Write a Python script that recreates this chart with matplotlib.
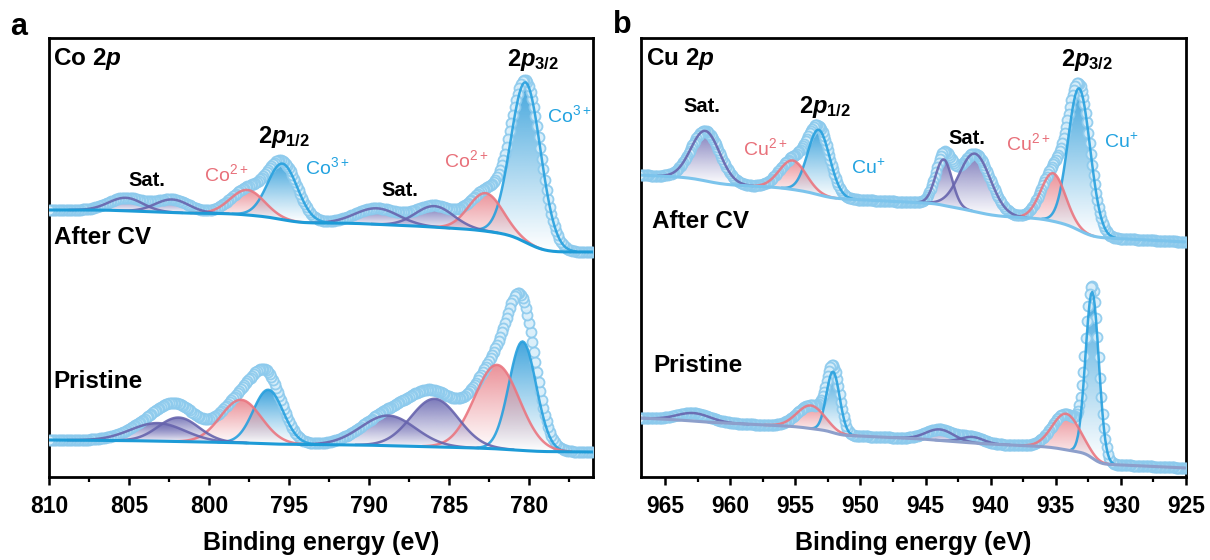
import numpy as np
import matplotlib
matplotlib.use("Agg")
import matplotlib.pyplot as plt
from matplotlib.colors import to_rgb
from matplotlib.ticker import MultipleLocator

plt.rcParams.update({
    "font.family": "Liberation Sans", "font.weight": "bold",
    "axes.labelweight": "bold",
    "mathtext.fontset": "custom",
    "mathtext.it": "Liberation Sans:italic:bold",
    "mathtext.rm": "Liberation Sans:bold",
    "mathtext.bf": "Liberation Sans:bold",
})

# ---- Co 2p fit components (center eV, height a.u., FWHM eV) ----
co_be = np.arange(776.0, 810.01, 0.1)
co_ticks = [810, 805, 800, 795, 790, 785, 780]
co_kind = ["M3", "M2", "sat", "sat", "M3", "M2", "sat", "sat"]
co_cv_center = [780.2, 782.7, 785.9, 789.5, 795.4, 797.6, 802.3, 805.2]
co_cv_height = [160, 38, 21, 16, 56, 25, 13, 13]
co_cv_fwhm = [2.2, 2.5, 2.8, 3.2, 2.2, 2.5, 2.5, 2.5]
co_cv_bg = [225, 42, 0]          # level at low BE, Shirley step, linear rise
co_pr_center = [780.4, 782.0, 785.9, 788.8, 796.3, 798.0, 801.9, 803.2]
co_pr_height = [109, 84, 48, 30, 54, 43, 24, 18]
co_pr_fwhm = [2.0, 3.3, 3.5, 4.0, 2.2, 3.0, 3.0, 4.0]
co_pr_bg = [25, 8, 4]

# ---- Cu 2p fit components ----
cu_be = np.arange(925.0, 967.01, 0.1)
cu_ticks = [965, 960, 955, 950, 945, 940, 935, 930, 925]
cu_kind = ["M3", "M2", "sat", "sat", "M3", "M2", "sat"]
cu_cv_center = [933.2, 935.2, 941.2, 943.6, 953.2, 955.2, 961.9]
cu_cv_height = [142, 48, 58, 46, 65, 29, 50]
cu_cv_fwhm = [2.0, 2.2, 2.8, 1.5, 2.0, 2.4, 2.6]
cu_cv_bg = [235, 40, 27]
cu_pr_center = [932.2, 934.2, 941.4, 943.9, 952.1, 953.8, 962.8]
cu_pr_height = [166, 36, 6, 11, 61, 23, 8]
cu_pr_fwhm = [1.2, 2.5, 2.0, 2.5, 1.2, 2.5, 3.0]
cu_pr_bg = [9, 25, 25]

LINE = {"M3": "#27a0de", "M2": "#ea7680", "sat": "#6764ad"}
FILL = {"M3": "#2c9bd9", "M2": "#e9868e", "sat": "#6e6cb3"}


def spectrum(be, center, height, fwhm, bg):
    comps = [h * np.exp(-4 * np.log(2) * ((be - c) / w) ** 2) for c, h, w in zip(center, height, fwhm)]
    total = np.sum(comps, axis=0)
    cum = np.cumsum(total) / total.sum()
    base = bg[0] + bg[1] * cum + bg[2] * (be - be[0]) / (be[-1] - be[0])
    return comps, base, base + total


def draw(ax, be, kinds, center, height, fwhm, bg, bg_color):
    comps, base, env = spectrum(be, center, height, fwhm, bg)
    ax.plot(be, env, "o", ms=7.2, mfc="#d8eefa", mec="#8ccaed", mew=1.3, alpha=0.9, zorder=3)
    for comp, kind in zip(comps, kinds):
        m = comp > 0.004 * comp.max()
        x, lo, hi = be[m], base[m], base[m] + comp[m]
        poly = ax.fill_between(x, lo, hi, facecolor="none", edgecolor="none")
        grad = np.zeros((256, 1, 4))
        grad[:, 0, :3] = to_rgb(FILL[kind])
        grad[:, 0, 3] = 0.9 * np.linspace(0.0, 1.0, 256) ** 1.1
        im = ax.imshow(grad, extent=(x[0], x[-1], lo.min(), hi.max()), origin="lower",
                       aspect="auto", interpolation="bilinear", zorder=2)
        im.set_clip_path(poly.get_paths()[0], transform=ax.transData)
        ax.plot(x, hi, color=LINE[kind], lw=1.8, alpha=0.9, zorder=4)
    ax.plot(be, base, color=bg_color, lw=2.2, zorder=4)


fig = plt.figure(figsize=(12.1, 5.6), dpi=100)
ax1 = fig.add_axes([49 / 1210, 83 / 560, 544 / 1210, 439 / 560])
ax2 = fig.add_axes([641 / 1210, 83 / 560, 545 / 1210, 439 / 560])

draw(ax1, co_be, co_kind, co_cv_center, co_cv_height, co_cv_fwhm, co_cv_bg, "#1d9bd7")
draw(ax1, co_be, co_kind, co_pr_center, co_pr_height, co_pr_fwhm, co_pr_bg, "#1d9bd7")
draw(ax2, cu_be, cu_kind, cu_cv_center, cu_cv_height, cu_cv_fwhm, cu_cv_bg, "#7cc4ec")
draw(ax2, cu_be, cu_kind, cu_pr_center, cu_pr_height, cu_pr_fwhm, cu_pr_bg, "#8d9fcb")

for ax, lim, ticks in [(ax1, (810, 776), co_ticks), (ax2, (966.85, 925), cu_ticks)]:
    ax.set_xlim(*lim)
    ax.set_ylim(0, 439)
    ax.set_yticks([])
    ax.set_xticks(ticks)
    ax.set_xticklabels([str(t) for t in ticks], fontsize=16.5, fontweight="bold")
    ax.xaxis.set_minor_locator(MultipleLocator(2.5))
    ax.tick_params(axis="x", which="major", direction="out", length=6, width=1.8, pad=7)
    ax.tick_params(axis="x", which="minor", direction="out", length=3.5, width=1.6)
    for s in ax.spines.values():
        s.set_linewidth(2)
    ax.set_xlabel("Binding energy (eV)", fontsize=18, fontweight="bold")
    ax.xaxis.set_label_coords(0.5, -0.122)

blue, red = "#23a3e0", "#e8707a"
ion = dict(fontsize=14, fontweight="normal", ha="center", va="center", zorder=6)
big = dict(fontsize=17, ha="center", va="center", zorder=6)
sat = dict(fontsize=14.5, ha="center", va="center", zorder=6)
side = dict(fontsize=17.5, ha="left", va="center", zorder=6)

# Co 2p annotations
ax1.text(809.75, 418, "Co 2$p$", **side)
ax1.text(809.7, 239, "After CV", **side)
ax1.text(809.7, 95, "Pristine", **side)
ax1.text(803.9, 296, "Sat.", **sat)
ax1.text(788.1, 286, "Sat.", **sat)
ax1.text(798.9, 303, r"Co$^{\mathregular{2+}}$", color=red, **ion)
ax1.text(783.9, 317, r"Co$^{\mathregular{2+}}$", color=red, **ion)
ax1.text(792.6, 310, r"Co$^{\mathregular{3+}}$", color=blue, **ion)
ax1.text(777.5, 362, r"Co$^{\mathregular{3+}}$", color=blue, **ion)
ax1.text(795.3, 340, r"2$p_{\mathregular{1/2}}$", **big)
ax1.text(779.75, 417, r"2$p_{\mathregular{3/2}}$", **big)

# Cu 2p annotations
ax2.text(966.5, 418, "Cu 2$p$", **side)
ax2.text(966.0, 255, "After CV", **side)
ax2.text(965.9, 111, "Pristine", **side)
ax2.text(962.2, 371, "Sat.", **sat)
ax2.text(941.85, 339, "Sat.", **sat)
ax2.text(957.3, 329, r"Cu$^{\mathregular{2+}}$", color=red, **ion)
ax2.text(937.15, 334, r"Cu$^{\mathregular{2+}}$", color=red, **ion)
ax2.text(949.4, 309, r"Cu$^{\mathregular{+}}$", color=blue, **ion)
ax2.text(930.0, 335, r"Cu$^{\mathregular{+}}$", color=blue, **ion)
ax2.text(952.7, 370, r"2$p_{\mathregular{1/2}}$", **big)
ax2.text(932.6, 417, r"2$p_{\mathregular{3/2}}$", **big)

fig.text(10 / 1210, 1 - 35 / 560, "a", fontsize=22, va="baseline")
fig.text(613 / 1210, 1 - 33 / 560, "b", fontsize=22, va="baseline")

fig.savefig("out.png", dpi=100)
